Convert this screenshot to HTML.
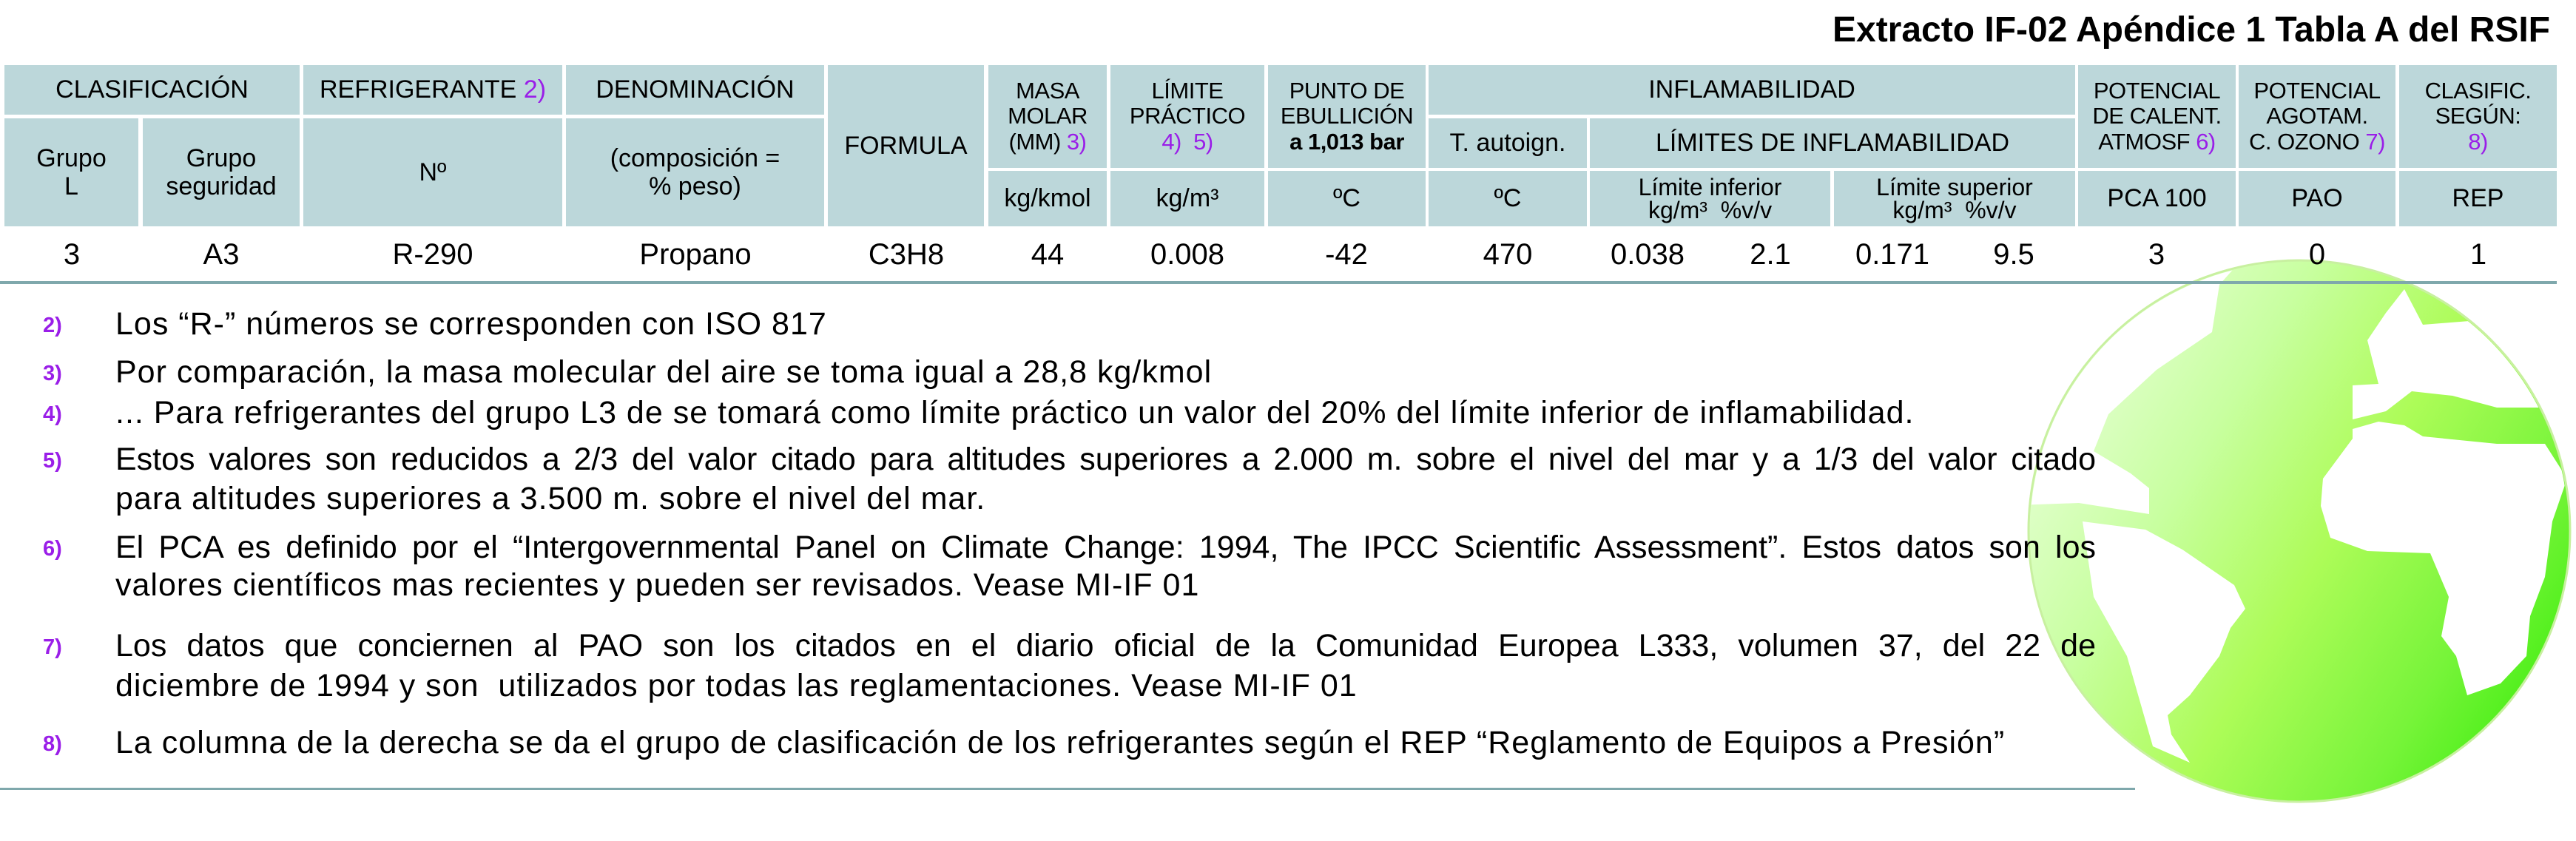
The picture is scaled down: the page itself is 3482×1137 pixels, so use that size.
<!DOCTYPE html>
<html><head><meta charset="utf-8"><style>
body{margin:0;width:3482px;height:1137px;background:#fff;position:relative;overflow:hidden;font-family:"Liberation Sans",sans-serif;color:#000}
.c{position:absolute;background:#bcd7da;display:flex;align-items:center;justify-content:center;text-align:center;font-size:34px;line-height:1.12}
.c>div{text-align:center}
.s{font-size:31px;line-height:1.1;letter-spacing:-0.5px}
.p{color:#9a1ee8}
.d{position:absolute;top:322px;font-size:40px;transform:translateX(-50%);white-space:nowrap}
.n{position:absolute;left:58px;font-size:29px;font-weight:bold;color:#9a1ee8}
.t{position:absolute;left:156px;font-size:43px;letter-spacing:1px;white-space:nowrap}
.j{width:2677px;text-align:justify;text-align-last:justify;letter-spacing:0}
</style></head><body>
<svg style="position:absolute;left:0;top:0" width="3482" height="1137">
<defs>
<linearGradient id="g" x1="0" y1="0.2" x2="1" y2="0.8">
<stop offset="0" stop-color="#eaffdc"/><stop offset="0.3" stop-color="#c8ffa0"/><stop offset="0.55" stop-color="#adfc58"/><stop offset="0.8" stop-color="#78f43a"/><stop offset="1" stop-color="#40ee10"/></linearGradient>
<clipPath id="cp"><circle cx="3108" cy="718" r="364"/></clipPath>
</defs>
<circle cx="3108" cy="718" r="366" fill="url(#g)" stroke="#c8f0a0" stroke-width="3"/>
<g clip-path="url(#cp)" fill="#fff">
<polygon points="2700,300 3040,340 3000,385 2990,449 2915,500 2850,560 2830,610 2880,640 2905,660 2905,695 2810,680 2700,684"/>
<polygon points="2815,705 2900,716 2950,743 3020,791 3035,823 3015,849 3000,887 2960,940 2930,967 2935,993 2960,1031 2910,1009 2875,887 2830,807"/>
<polygon points="3180,521 3215,519 3200,460 3225,423 3250,391 3275,439 3350,433 3440,524 3450,551 3375,551 3315,535 3260,529 3225,556 3180,567"/>
<polygon points="3180,580 3215,570 3250,575 3275,590 3375,600 3440,600 3470,647 3450,705 3440,780 3420,833 3415,887 3380,924 3335,940 3320,887 3300,860 3310,807 3285,748 3200,745 3150,727 3137,684 3140,647 3180,593"/>
<polygon points="3470,520 3500,520 3500,700 3480,690"/>
</g>
</svg>

<div style="position:absolute;right:35px;top:13px;font-size:48px;font-weight:bold;white-space:nowrap">Extracto IF-02 Apéndice 1 Tabla A del RSIF</div>

<div class="c" style="left:6px;top:88px;width:399px;height:67px"><div>CLASIFICACIÓN</div></div>
<div class="c" style="left:410px;top:88px;width:350px;height:67px"><div>REFRIGERANTE <span class="p">2)</span></div></div>
<div class="c" style="left:765px;top:88px;width:349px;height:67px"><div>DENOMINACIÓN</div></div>
<div class="c" style="left:1119px;top:88px;width:211px;height:218px"><div>FORMULA</div></div>
<div class="c s" style="left:1336px;top:88px;width:160px;height:139px"><div>MASA<br>MOLAR<br>(MM) <span class="p">3)</span></div></div>
<div class="c s" style="left:1501px;top:88px;width:208px;height:139px"><div>LÍMITE<br>PRÁCTICO<br><span class="p">4)&nbsp; 5)</span></div></div>
<div class="c s" style="left:1714px;top:88px;width:213px;height:139px"><div>PUNTO DE<br>EBULLICIÓN<br><b>a 1,013 bar</b></div></div>
<div class="c" style="left:1931px;top:88px;width:874px;height:67px"><div>INFLAMABILIDAD</div></div>
<div class="c s" style="left:2809px;top:88px;width:213px;height:139px"><div>POTENCIAL<br>DE CALENT.<br>ATMOSF <span class="p">6)</span></div></div>
<div class="c s" style="left:3026px;top:88px;width:212px;height:139px"><div>POTENCIAL<br>AGOTAM.<br>C. OZONO <span class="p">7)</span></div></div>
<div class="c s" style="left:3243px;top:88px;width:213px;height:139px"><div>CLASIFIC.<br>SEGÚN:<br><span class="p">8)</span></div></div>

<div class="c" style="left:6px;top:160px;width:181px;height:146px"><div>Grupo<br>L</div></div>
<div class="c" style="left:193px;top:160px;width:212px;height:146px"><div>Grupo<br>seguridad</div></div>
<div class="c" style="left:410px;top:160px;width:350px;height:146px"><div>Nº</div></div>
<div class="c" style="left:765px;top:160px;width:349px;height:146px"><div>(composición =<br>% peso)</div></div>
<div class="c" style="left:1931px;top:160px;width:214px;height:67px"><div>T. autoign.</div></div>
<div class="c" style="left:2149px;top:160px;width:656px;height:67px"><div>LÍMITES DE INFLAMABILIDAD</div></div>

<div class="c" style="left:1336px;top:231px;width:160px;height:75px"><div>kg/kmol</div></div>
<div class="c" style="left:1501px;top:231px;width:208px;height:75px"><div>kg/m³</div></div>
<div class="c" style="left:1714px;top:231px;width:213px;height:75px"><div>ºC</div></div>
<div class="c" style="left:1931px;top:231px;width:214px;height:75px"><div>ºC</div></div>
<div class="c" style="left:2149px;top:231px;width:325px;height:75px;font-size:32px;line-height:0.95"><div>Límite inferior<br>kg/m³&nbsp; %v/v</div></div>
<div class="c" style="left:2479px;top:231px;width:326px;height:75px;font-size:32px;line-height:0.95"><div>Límite superior<br>kg/m³&nbsp; %v/v</div></div>
<div class="c" style="left:2809px;top:231px;width:213px;height:75px"><div>PCA 100</div></div>
<div class="c" style="left:3026px;top:231px;width:212px;height:75px"><div>PAO</div></div>
<div class="c" style="left:3243px;top:231px;width:213px;height:75px"><div>REP</div></div>

<div class="d" style="left:97px">3</div>
<div class="d" style="left:299px">A3</div>
<div class="d" style="left:585px">R-290</div>
<div class="d" style="left:940px">Propano</div>
<div class="d" style="left:1225px">C3H8</div>
<div class="d" style="left:1416px">44</div>
<div class="d" style="left:1605px">0.008</div>
<div class="d" style="left:1820px">-42</div>
<div class="d" style="left:2038px">470</div>
<div class="d" style="left:2227px">0.038</div>
<div class="d" style="left:2393px">2.1</div>
<div class="d" style="left:2558px">0.171</div>
<div class="d" style="left:2722px">9.5</div>
<div class="d" style="left:2915px">3</div>
<div class="d" style="left:3132px">0</div>
<div class="d" style="left:3350px">1</div>

<div style="position:absolute;left:0;top:380px;width:3456px;height:4px;background:#7fa8ac"></div>

<div class="n" style="top:424px">2)</div>
<div class="t" style="top:414px">Los “R-” números se corresponden con ISO 817</div>
<div class="n" style="top:489px">3)</div>
<div class="t" style="top:479px">Por comparación, la masa molecular del aire se toma igual a 28,8 kg/kmol</div>
<div class="n" style="top:544px">4)</div>
<div class="t" style="top:534px">... Para refrigerantes del grupo L3 de se tomará como límite práctico un valor del 20% del límite inferior de inflamabilidad.</div>
<div class="n" style="top:607px">5)</div>
<div class="t j" style="top:597px">Estos valores son reducidos a 2/3 del valor citado para altitudes superiores a 2.000 m. sobre el nivel del mar y a 1/3 del valor citado</div>
<div class="t" style="top:650px">para altitudes superiores a 3.500 m. sobre el nivel del mar.</div>
<div class="n" style="top:726px">6)</div>
<div class="t j" style="top:716px">El PCA es definido por el “Intergovernmental Panel on Climate Change: 1994, The IPCC Scientific Assessment”. Estos datos son los</div>
<div class="t" style="top:767px">valores científicos mas recientes y pueden ser revisados. Vease MI-IF 01</div>
<div class="n" style="top:859px">7)</div>
<div class="t j" style="top:849px">Los datos que conciernen al PAO son los citados en el diario oficial de la Comunidad Europea L333, volumen 37, del 22 de</div>
<div class="t" style="top:903px">diciembre de 1994 y son&nbsp; utilizados por todas las reglamentaciones. Vease MI-IF 01</div>
<div class="n" style="top:990px">8)</div>
<div class="t" style="top:980px">La columna de la derecha se da el grupo de clasificación de los refrigerantes según el REP “Reglamento de Equipos a Presión”</div>

<div style="position:absolute;left:0;top:1065px;width:2886px;height:3px;background:#7fa8ac"></div>
</body></html>
